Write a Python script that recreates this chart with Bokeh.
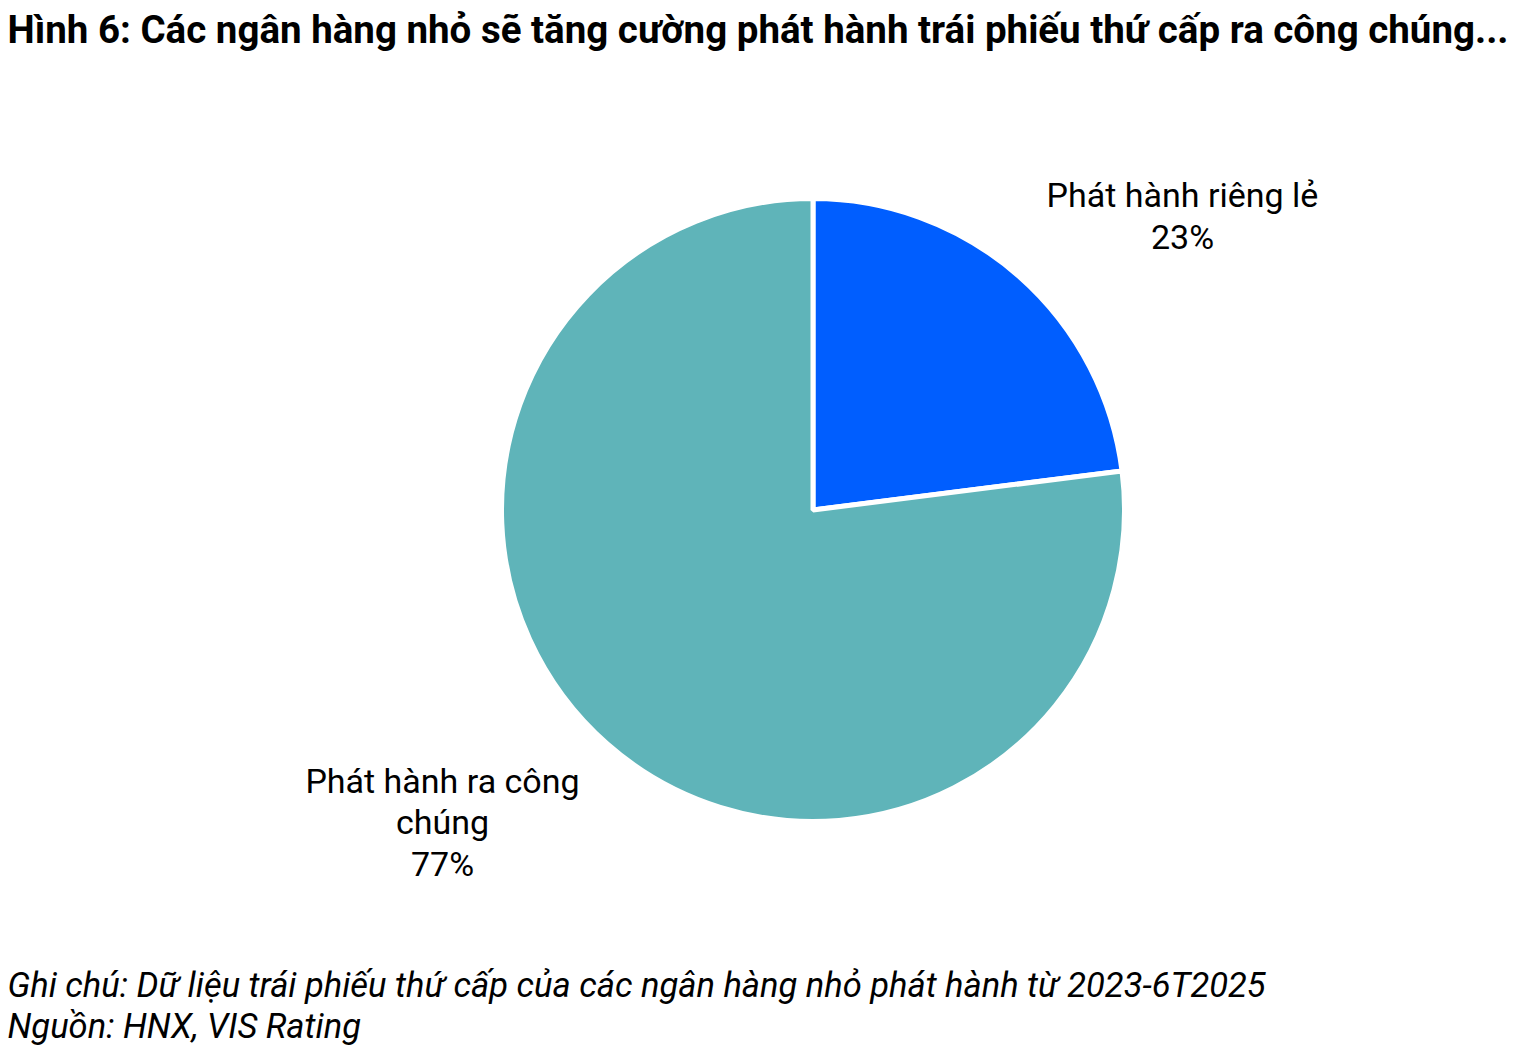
import numpy as np

from bokeh.plotting import figure
from bokeh.models import Range1d
from bokeh.core.properties import value
from bokeh.embed import file_html
from bokeh.resources import INLINE


title = "Hình 6: Các ngân hàng nhỏ sẽ tăng cường phát hành trái phiếu thứ cấp ra công chúng..."
notes = ["Ghi chú: Dữ liệu trái phiếu thứ cấp của các ngân hàng nhỏ phát hành từ 2023-6T2025",
         "Nguồn: HNX, VIS Rating"]

categories = ["Phát hành riêng lẻ", "Phát hành ra công\nchúng"]
shares = [23, 77]
colors = ["#005EFF", "#5FB4B9"]

W, H = 1526, 1058

p = figure(width=W, height=H, output_backend="svg", toolbar_location=None,
           x_range=Range1d(0, W), y_range=Range1d(0, H),
           min_border=0, outline_line_color=None)
p.axis.visible = False
p.grid.visible = False

# pie, clockwise from 12 o'clock
frac = np.array(shares) / sum(shares)
ends = np.pi / 2 - 2 * np.pi * np.cumsum(frac)
starts = np.concatenate([[np.pi / 2], ends[:-1]])
cx, cy, r = 812.5, 548.5, 311.5
p.wedge(x=cx, y=cy, radius=r, start_angle=starts, end_angle=ends,
        direction="clock", fill_color=colors, line_color="white", line_width=5)

# slice labels (baseline of first line, line gap)
label_pos = [(1182, 864, 42), (442, 278, 41.5)]
for cat, s, (lx, ly, gap) in zip(categories, shares, label_pos):
    lines = cat.split("\n") + [f"{s}%"]
    ys = [ly - i * gap for i in range(len(lines))]
    p.text(x=[lx] * len(lines), y=ys, text=lines, text_align="center",
           text_baseline="alphabetic", text_font=value("Roboto"),
           text_font_size="34px", text_color="#000000")

p.text(x=[7], y=[H - 29], text=[title], text_align="left",
       text_baseline="alphabetic", text_font=value("Roboto"),
       text_font_style="bold", text_font_size="38.5px", text_color="#000000")

p.text(x=[7, 7], y=[H - 984, H - 1025], text=notes, text_align="left",
       text_baseline="alphabetic", text_font=value("Roboto"),
       text_font_style="italic", text_font_size="34.5px", text_color="#000000")

open("out.html", "w").write(file_html(p, INLINE))
